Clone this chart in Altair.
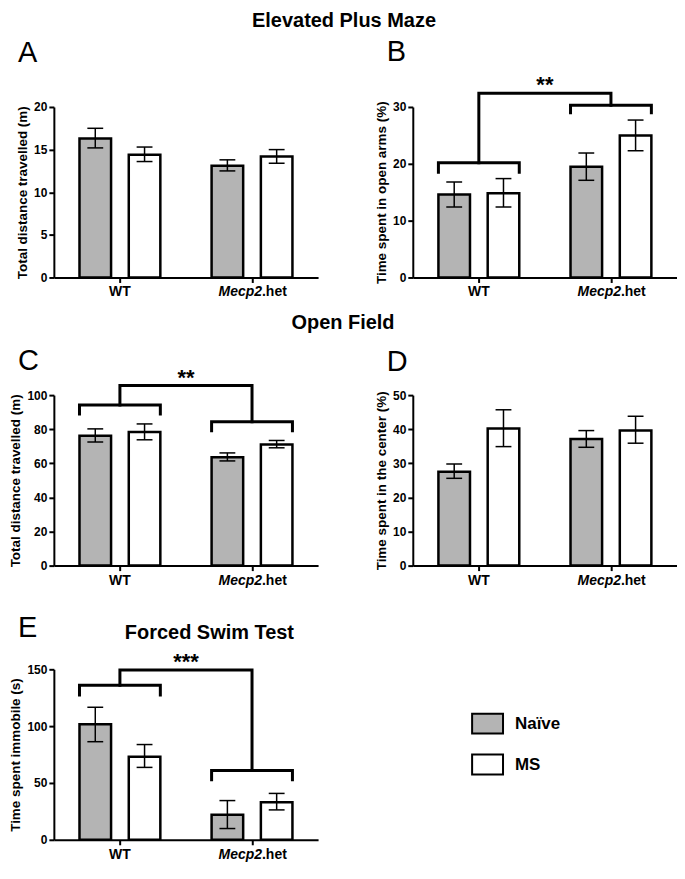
import altair as alt
import pandas as pd

FONT = "Liberation Sans"

groups = ["WT", "Mecp2.het"]
conditions = ["Naïve", "MS"]

# order of values: WT-Naïve, WT-MS, Mecp2.het-Naïve, Mecp2.het-MS
epm_dist_mean = [16.3, 14.4, 13.1, 14.2]
epm_dist_lo = [15.2, 13.6, 12.5, 13.4]
epm_dist_hi = [17.5, 15.3, 13.8, 15.0]

epm_open_mean = [14.6, 14.8, 19.5, 25.0]
epm_open_lo = [12.4, 12.4, 17.1, 22.3]
epm_open_hi = [16.8, 17.4, 21.9, 27.7]
# bracket levels: WT level, WT tips, Mecp2 level, Mecp2 tips, top link
epm_open_bracket = [20.2, 18.5, 30.3, 29.0, 32.4]

of_dist_mean = [76.1, 78.3, 63.5, 71.0]
of_dist_lo = [72.5, 73.8, 61.4, 69.1]
of_dist_hi = [80.2, 83.1, 66.1, 73.4]
of_dist_bracket = [94.2, 88.9, 84.4, 79.1, 105.6]

of_center_mean = [27.5, 40.2, 37.1, 39.6]
of_center_lo = [25.6, 34.9, 34.7, 35.9]
of_center_hi = [29.8, 45.7, 39.6, 43.8]

fst_mean = [101.6, 73.0, 22.1, 33.1]
fst_lo = [86.3, 63.7, 9.9, 26.3]
fst_hi = [116.6, 83.8, 34.5, 40.8]
fst_bracket = [135.9, 127.4, 60.9, 52.9, 149.4]

# layout constants
GROUP_POS = [1.0, 3.0]
BAR_SHIFT = [-0.373, 0.373]
BAR_HALF = 0.239
CAP_HALF = 0.12
X_DOMAIN = [0, 4]
W = 265
H = 171
ROW2_EXTRA = 14
GRAY = "#b4b4b4"
FILLS = [GRAY, "#ffffff"]
RECT_PATH = "M-1,-0.645L1,-0.645L1,0.645L-1,0.645Z"


def bar_table(mean, lo, hi):
    rows = []
    for gi, g in enumerate(groups):
        for ci, c in enumerate(conditions):
            k = 2 * gi + ci
            xc = GROUP_POS[gi] + BAR_SHIFT[ci]
            rows.append({"group": g, "cond": c, "xc": xc,
                         "x1": xc - BAR_HALF, "x2": xc + BAR_HALF,
                         "cl": xc - CAP_HALF, "cr": xc + CAP_HALF,
                         "mean": mean[k], "lo": lo[k], "hi": hi[k], "base": 0.0})
    return pd.DataFrame(rows)


def bracket_table(b):
    lvl1, tip1, lvl2, tip2, top = b
    lv = [lvl1, lvl2]
    tp = [tip1, tip2]
    rows = []
    for gi in range(2):
        L = GROUP_POS[gi] + BAR_SHIFT[0] - BAR_HALF
        R = GROUP_POS[gi] + BAR_SHIFT[1] + BAR_HALF
        pts = [(L, tp[gi]), (L, lv[gi]), (R, lv[gi]), (R, tp[gi])]
        for s, (px, py) in enumerate(pts):
            rows.append({"seg": f"g{gi}", "seq": s, "px": px, "py": py})
    pts = [(GROUP_POS[0], lvl1), (GROUP_POS[0], top), (GROUP_POS[1], top), (GROUP_POS[1], lvl2)]
    for s, (px, py) in enumerate(pts):
        rows.append({"seg": "link", "seq": s, "px": px, "py": py})
    return pd.DataFrame(rows)


def text_layer(txt, x, y, size, weight="bold", align="left", style="normal"):
    return alt.Chart(pd.DataFrame({"t": [txt]})).mark_text(
        fontSize=size, fontWeight=weight, align=align, baseline="alphabetic",
        fontStyle=style, color="black"
    ).encode(x=alt.value(x), y=alt.value(y), text="t:N")


def panel(letter, letter_xy, ytitle, ymax, yticks, mean, lo, hi, extra=0,
          bracket=None, stars=None, heading=None, legend=None):
    h = H + extra
    xs = alt.Scale(domain=X_DOMAIN, nice=False, zero=False)
    ys = alt.Scale(domain=[0, ymax], nice=False, zero=True, range=[h, extra])
    xax = alt.Axis(values=GROUP_POS, labels=False, grid=False)
    yax = alt.Axis(values=yticks, grid=False)

    def X(f):
        return alt.X(f, type="quantitative", scale=xs, axis=xax, title=None)

    def Y(f):
        return alt.Y(f, type="quantitative", scale=ys, axis=yax, title=ytitle)

    df = bar_table(mean, lo, hi)
    fill = alt.Fill("cond:N", scale=alt.Scale(domain=conditions, range=FILLS), legend=legend)
    layers = [
        alt.Chart(df).mark_rect(stroke="black", strokeWidth=2.5).encode(
            x=X("x1"), x2="x2:Q", y=Y("mean"), y2="base:Q", fill=fill),
        alt.Chart(df).mark_rule(color="black", strokeWidth=1.5).encode(
            x=X("xc"), y=Y("lo"), y2="hi:Q"),
        alt.Chart(df).mark_rule(color="black", strokeWidth=1.5).encode(
            x=X("cl"), x2="cr:Q", y=Y("lo")),
        alt.Chart(df).mark_rule(color="black", strokeWidth=1.5).encode(
            x=X("cl"), x2="cr:Q", y=Y("hi")),
    ]
    if bracket is not None:
        layers.append(
            alt.Chart(bracket_table(bracket)).mark_line(
                color="black", strokeWidth=3, strokeJoin="miter", strokeCap="square"
            ).encode(x=X("px"), y=Y("py"), detail="seg:N", order="seq:Q"))
        sdf = pd.DataFrame({"sx": [sum(GROUP_POS) / 2], "sy": [bracket[4]], "t": [stars]})
        layers.append(
            alt.Chart(sdf).mark_text(fontSize=22, fontWeight="bold", baseline="alphabetic",
                                     dy=-1, color="black").encode(
                x=X("sx"), y=Y("sy"), text="t:N"))
    # x tick labels (Mecp2 in italics)
    gene, suffix = groups[1].split(".")
    lab_y = h + 19
    layers.append(alt.Chart(pd.DataFrame({"lx": [GROUP_POS[0]], "t": [groups[0]]})).mark_text(
        fontSize=14, fontWeight="bold", align="center", baseline="alphabetic", color="black").encode(
        x=X("lx"), y=alt.value(lab_y), text="t:N"))
    layers.append(alt.Chart(pd.DataFrame({"lx": [GROUP_POS[1]], "t": [gene]})).mark_text(
        fontSize=14, fontWeight="bold", fontStyle="italic", align="right", baseline="alphabetic",
        dx=10, color="black").encode(x=X("lx"), y=alt.value(lab_y), text="t:N"))
    layers.append(alt.Chart(pd.DataFrame({"lx": [GROUP_POS[1]], "t": ["." + suffix]})).mark_text(
        fontSize=14, fontWeight="bold", align="left", baseline="alphabetic",
        dx=10, color="black").encode(x=X("lx"), y=alt.value(lab_y), text="t:N"))
    # panel letter
    layers.append(text_layer(letter, letter_xy[0], extra + letter_xy[1], 29, weight="normal"))
    if heading is not None:
        txt, hx, hy = heading
        layers.append(text_layer(txt, hx, extra + hy, 20, align="center"))
    return alt.layer(*layers).properties(width=W, height=h)


legend_E = alt.Legend(
    orient="none", legendX=418.5, legendY=38, title=None,
    symbolType=RECT_PATH, symbolSize=961, symbolStrokeColor="black",
    symbolStrokeWidth=2, symbolOpacity=1, labelFontSize=17, labelFontWeight="bold",
    labelColor="black", labelOffset=11, rowPadding=10, padding=0,
)

pA = panel("A", (-36, -45), "Total distance travelled (m)", 20, [0, 5, 10, 15, 20],
           epm_dist_mean, epm_dist_lo, epm_dist_hi,
           heading=("Elevated Plus Maze", 291, -80))
pB = panel("B", (-26, -46), "Time spent in open arms (%)", 30, [0, 10, 20, 30],
           epm_open_mean, epm_open_lo, epm_open_hi,
           bracket=epm_open_bracket, stars="**")
pC = panel("C", (-36, -25), "Total distance travelled (m)", 100, [0, 20, 40, 60, 80, 100],
           of_dist_mean, of_dist_lo, of_dist_hi, extra=ROW2_EXTRA,
           bracket=of_dist_bracket, stars="**", heading=("Open Field", 290, -66))
pD = panel("D", (-26, -24), "Time spent in the center (%)", 50, [0, 10, 20, 30, 40, 50],
           of_center_mean, of_center_lo, of_center_hi, extra=ROW2_EXTRA)
pE = panel("E", (-36, -32), "Time spent immobile (s)", 150, [0, 50, 100, 150],
           fst_mean, fst_lo, fst_hi, bracket=fst_bracket, stars="***",
           heading=("Forced Swim Test", 156, -30), legend=legend_E)

chart = alt.concat(
    pA, pB, pC, pD, pE, columns=2,
    spacing={"row": 104, "column": 95}, bounds="flush", align="each",
).resolve_scale(fill="independent").resolve_legend(fill="independent").properties(
    padding={"left": 0, "top": 2, "right": 0, "bottom": 0}
).configure(font=FONT).configure_view(stroke=None).configure_axis(
    domainColor="black", domainWidth=2, tickColor="black", tickWidth=2, tickSize=5,
    labelFont=FONT, labelFontSize=12, labelFontWeight="bold", labelColor="black",
    labelPadding=2, titleFont=FONT, titleFontSize=13.5, titleFontWeight="bold",
    titleColor="black", titlePadding=4, grid=False,
)

chart.save("out.html", embed_options={"renderer": "svg", "actions": False})
